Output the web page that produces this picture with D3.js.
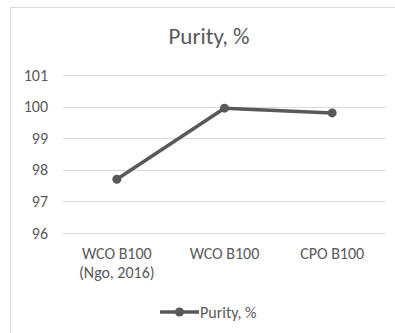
<!DOCTYPE html>
<html lang="en">
<head>
<meta charset="UTF-8">
<title>Purity, %</title>
<script src="https://d3js.org/d3.v7.min.js"></script>
<style>
  body { margin: 0; background: #fff; }
  svg { display: block; font-family: Carlito, Calibri, "Open Sans", "Liberation Sans", sans-serif; }
</style>
</head>
<body>
<svg width="395" height="333"></svg>
<script>
  // chart data
  const categories = [["WCO B100", "(Ngo, 2016)"], ["WCO B100"], ["CPO B100"]];
  const purity = [97.7, 99.95, 99.8];
  const yTicks = [96, 97, 98, 99, 100, 101];
  const seriesName = "Purity, %";

  const svg = d3.select("svg");
  const grey = "#595959";

  // chart frame (right and bottom edges fall outside the picture)
  svg.append("rect")
      .attr("x", 10.5).attr("y", 7.5)
      .attr("width", 400).attr("height", 340)
      .attr("fill", "#fff")
      .attr("stroke", "#d9d9d9");

  const plot = { left: 63, right: 386, top: 75, bottom: 233 };

  const x = d3.scaleBand()
      .domain(categories.map((d, i) => i))
      .range([plot.left, plot.right]);

  const y = d3.scaleLinear()
      .domain([96, 101])
      .range([plot.bottom, plot.top]);

  // gridlines
  svg.append("g")
    .selectAll("line")
    .data(yTicks)
    .join("line")
      .attr("x1", plot.left).attr("x2", plot.right)
      .attr("y1", d => Math.round(y(d)) + 0.5)
      .attr("y2", d => Math.round(y(d)) + 0.5)
      .attr("stroke", "#d9d9d9");

  // y tick labels
  svg.append("g")
    .selectAll("text")
    .data(yTicks)
    .join("text")
      .attr("x", 48)
      .attr("y", d => y(d) + 5.5)
      .attr("text-anchor", "end")
      .attr("font-size", 16)
      .attr("fill", grey)
      .text(d => d);

  // x labels
  const xl = svg.append("g")
    .selectAll("text")
    .data(categories)
    .join("text")
      .attr("x", (d, i) => x(i) + x.bandwidth() / 2)
      .attr("y", 259)
      .attr("text-anchor", "middle")
      .attr("font-size", 16)
      .attr("fill", grey);
  xl.selectAll("tspan")
    .data(d => d)
    .join("tspan")
      .attr("x", function () { return this.parentNode.getAttribute("x"); })
      .attr("dy", (d, i) => i ? 19 : 0)
      .text(d => d);

  // line + markers
  const line = d3.line()
      .x((d, i) => x(i) + x.bandwidth() / 2)
      .y(d => y(d));

  svg.append("path")
      .datum(purity)
      .attr("d", line)
      .attr("fill", "none")
      .attr("stroke", grey)
      .attr("stroke-width", 3.5)
      .attr("stroke-linejoin", "round");

  svg.append("g")
    .selectAll("circle")
    .data(purity)
    .join("circle")
      .attr("cx", (d, i) => x(i) + x.bandwidth() / 2)
      .attr("cy", d => y(d))
      .attr("r", 4.5)
      .attr("fill", grey);

  // title
  svg.append("text")
      .attr("x", 209)
      .attr("y", 44)
      .attr("text-anchor", "middle")
      .attr("font-size", 23)
      .attr("fill", grey)
      .text(seriesName);

  // legend
  const lg = svg.append("g");
  lg.append("line")
      .attr("x1", 160).attr("x2", 199)
      .attr("y1", 312).attr("y2", 312)
      .attr("stroke", grey).attr("stroke-width", 3.5);
  lg.append("circle")
      .attr("cx", 179.5).attr("cy", 312).attr("r", 4.5)
      .attr("fill", grey);
  lg.append("text")
      .attr("x", 200).attr("y", 317.5)
      .attr("font-size", 16)
      .attr("fill", grey)
      .text(seriesName);
</script>
</body>
</html>
